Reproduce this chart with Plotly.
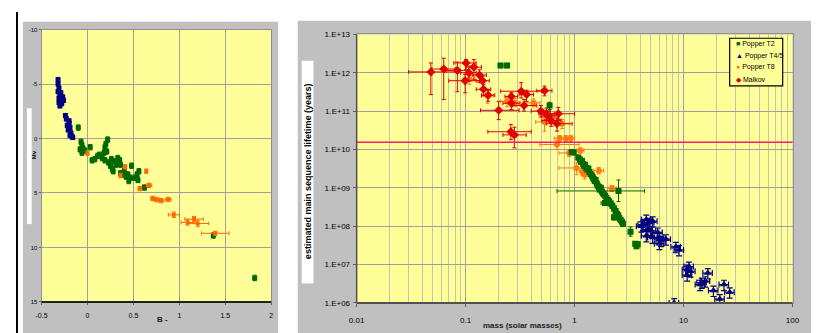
import plotly.graph_objects as go

W, H = 819, 333

# ---------------- Left panel data (B-V vs magnitude) ----------------
L_blue_x = [-0.32, -0.32, -0.31, -0.32, -0.30, -0.31, -0.29, -0.28, -0.30, -0.27, -0.29, -0.31, -0.26,
            -0.24, -0.23, -0.20, -0.22, -0.19, -0.21, -0.18, -0.17, -0.19, -0.16, -0.20]
L_blue_y = [-5.4, -5.0, -4.6, -4.3, -4.0, -3.7, -3.5, -3.2, -3.0, -3.8, -4.2, -3.3, -3.5,
            -2.1, -1.8, -1.6, -1.2, -1.0, -0.8, -0.5, -0.2, -0.3, -0.1, -1.4]

L_green_x = [-0.10, -0.07, -0.06, -0.05, -0.08, -0.03, 0.03, -0.06,
             0.05, 0.08, 0.11, 0.13, 0.16, 0.19, 0.18, 0.22, 0.20, 0.19, 0.21,
             0.23, 0.25, 0.27, 0.26, 0.29, 0.31, 0.33, 0.35, 0.36, 0.28,
             0.36, 0.40, 0.42, 0.44, 0.45, 0.47, 0.48, 0.52, 0.55, 0.56, 0.54, 0.38,
             0.62, 1.37, 1.82]
L_green_y = [-1.0, 0.3, 0.6, 0.9, 1.0, 1.1, 0.8, 1.3,
             2.0, 1.9, 1.6, 1.5, 1.8, 2.0, 1.3, 0.1, 0.5, 0.8, 1.2,
             2.2, 2.5, 2.8, 1.9, 2.1, 2.4, 1.8, 2.0, 2.4, 3.0,
             3.2, 3.0, 3.5, 3.3, 3.9, 3.6, 2.5, 3.6, 3.8, 3.0, 3.3, 3.3,
             4.5, 8.9, 12.8]

L_orange_x = [0.00, 0.41, 0.36, 0.64, 0.67, 0.57, 0.71, 0.75, 0.80, 0.88, 0.94, 1.09, 1.16, 1.20, 1.39]
L_orange_y = [1.35, 2.6, 3.4, 3.0, 4.3, 4.6, 5.5, 5.6, 5.7, 5.6, 7.0, 7.7, 7.4, 7.8, 8.7]
L_orange_xerr = [0.01, 0.01, 0.01, 0.01, 0.03, 0.02, 0.02, 0.03, 0.03, 0.03, 0.06, 0.07, 0.10, 0.12, 0.15]
L_orange_yerr = [0.2, 0.2, 0.2, 0.2, 0.2, 0.2, 0.2, 0.2, 0.2, 0.2, 0.25, 0.25, 0.25, 0.3, 0.2]

L_xticks = [-0.5, 0, 0.5, 1, 1.5, 2]
L_xticktext = ["-0.5", "0", "0.5", "1", "1.5", "2"]
L_yticks = [-10, -5, 0, 5, 10, 15]
L_yticktext = ["-10", "-5", "0", "5", "10", "15"]

# ---------------- Right panel data (mass vs lifetime) ----------------
MK_x = [0.048, 0.063, 0.084, 0.101, 0.119, 0.107, 0.134, 0.099, 0.143, 0.146, 0.161, 0.201, 0.263,
        0.263, 0.324, 0.363, 0.344, 0.53, 0.49, 0.55, 0.61, 0.71, 0.69, 0.26, 0.28, 0.57]
MK_xlo = [0.030, 0.049, 0.066, 0.078, 0.100, 0.090, 0.115, 0.070, 0.125, 0.125, 0.140, 0.137, 0.23,
          0.22, 0.21, 0.31, 0.27, 0.45, 0.40, 0.47, 0.50, 0.56, 0.55, 0.16, 0.22, 0.50]
MK_xhi = [0.085, 0.080, 0.108, 0.125, 0.140, 0.125, 0.155, 0.135, 0.165, 0.170, 0.185, 0.31, 0.30,
          0.31, 0.50, 0.42, 0.45, 0.62, 0.60, 0.65, 0.75, 1.00, 0.95, 0.40, 0.36, 0.66]
MK_y = [1.05e12, 1.25e12, 1.15e12, 1.8e12, 1.4e12, 1.0e12, 8.7e11, 6.2e11, 6.2e11, 3.7e11, 2.6e11, 1.05e11, 2.4e11,
        1.6e11, 3.3e11, 2.7e11, 1.4e11, 3.4e11, 1.0e11, 8.5e10, 5.7e10, 8.5e10, 4.7e10, 2.9e10, 2.4e10, 7.5e10]
MK_ylo = [2.7e11, 2.0e11, 3.2e11, 1.2e12, 6.5e11, 6.0e11, 5.5e11, 3.0e11, 4.0e11, 2.5e11, 1.8e11, 6.0e10, 1.6e11,
          1.1e11, 2.2e11, 1.8e11, 1.0e11, 2.5e11, 7.0e10, 6.0e10, 4.0e10, 6.0e10, 3.0e10, 1.8e10, 1.1e10, 5.5e10]
MK_yhi = [1.8e12, 2.4e12, 1.9e12, 2.2e12, 2.2e12, 1.5e12, 1.2e12, 9.0e11, 8.0e11, 5.0e11, 3.5e11, 1.8e11, 3.0e11,
          2.2e11, 5.5e11, 3.5e11, 2.0e11, 4.5e11, 1.4e11, 1.2e11, 8.0e10, 1.25e11, 6.5e10, 4.5e10, 3.8e10, 1.0e11]

T8_x = [0.108, 0.159, 0.24, 0.285, 0.42, 0.53, 0.61, 0.77, 0.73, 0.83, 0.92, 0.69, 0.89, 1.13, 1.04, 1.24, 1.18, 1.67, 2.2]
T8_xlo = [0.095, 0.14, 0.21, 0.25, 0.36, 0.44, 0.52, 0.65, 0.65, 0.75, 0.84, 0.48, 0.72, 1.05, 0.72, 1.15, 1.10, 1.50, 2.0]
T8_xhi = [0.122, 0.18, 0.27, 0.32, 0.48, 0.62, 0.72, 0.90, 0.82, 0.92, 1.00, 1.10, 1.05, 1.22, 1.40, 1.35, 1.27, 1.85, 2.4]
T8_y = [6.8e11, 2.5e11, 1.8e11, 1.65e11, 1.65e11, 5.2e10, 6.9e10, 4.7e10, 1.95e10, 1.9e10, 1.95e10, 1.35e10,
        8.1e9, 9.4e9, 3.3e9, 2.2e9, 2.7e9, 2.8e9, 9.6e8]
T8_ylo = [5.0e11, 1.6e11, 1.3e11, 1.3e11, 1.3e11, 3.0e10, 5.5e10, 3.5e10, 1.6e10, 1.6e10, 1.6e10, 1.0e10,
          6.5e9, 8.0e9, 2.2e9, 1.7e9, 2.2e9, 2.3e9, 8.0e8]
T8_yhi = [8.5e11, 3.7e11, 2.3e11, 2.1e11, 2.1e11, 7.0e10, 8.5e10, 6.0e10, 2.3e10, 2.3e10, 2.3e10, 1.7e10,
          1.0e10, 1.1e10, 4.5e9, 2.8e9, 3.2e9, 3.4e9, 1.15e9]

T2d_x = [0.209, 0.24, 0.59, 0.94, 0.98, 2.53, 1.9, 3.26, 3.6, 3.8, 3.7]
T2d_xlo = [0.20, 0.23, 0.58, 0.92, 0.96, 0.69, 1.75, 3.15, 3.5, 3.7, 3.6]
T2d_xhi = [0.22, 0.25, 0.60, 0.96, 1.00, 4.38, 2.10, 3.40, 3.7, 3.9, 3.8]
T2d_y = [1.55e12, 1.55e12, 1.4e11, 8.6e9, 8.3e9, 8.3e8, 4.0e8, 7.2e7, 3.5e7, 3.4e7, 3.0e7]
T2d_ylo = [1.35e12, 1.35e12, 1.1e11, 7.5e9, 7.3e9, 4.4e8, 3.5e8, 5.5e7, 3.0e7, 2.9e7, 2.6e7]
T2d_yhi = [1.75e12, 1.75e12, 1.7e11, 9.8e9, 9.5e9, 1.6e9, 4.6e8, 9.5e7, 4.0e7, 3.9e7, 3.5e7]

T2b_x = [1.08, 1.12, 1.14, 1.17, 1.20, 1.22, 1.25, 1.28, 1.31, 1.34, 1.37, 1.40, 1.44, 1.47, 1.50, 1.53,
         1.56, 1.60, 1.63, 1.67, 1.70, 1.74, 1.78, 1.82, 1.86, 1.91, 1.96, 2.02, 2.08, 2.15, 2.22, 2.30,
         2.38, 2.45, 2.52, 2.58, 2.65, 2.72, 2.78, 2.30]
T2b_y = [6.2e9, 5.5e9, 4.8e9, 5.0e9, 4.2e9, 3.8e9, 4.0e9, 3.3e9, 3.0e9, 3.2e9, 2.6e9, 2.3e9, 2.1e9, 1.9e9,
         1.7e9, 1.5e9, 1.6e9, 1.3e9, 1.15e9, 1.05e9, 9.0e8, 1.0e9, 8.0e8, 7.2e8, 6.8e8, 6.2e8, 5.4e8, 4.8e8,
         4.4e8, 3.9e8, 3.4e8, 2.9e8, 2.5e8, 2.1e8, 1.9e8, 1.6e8, 1.45e8, 1.3e8, 1.15e8, 1.7e8]

T45_x = [4.55, 4.24, 4.86, 5.2, 4.7, 5.05, 4.55, 5.2, 4.1, 5.8, 6.0, 6.0, 6.2, 6.9, 8.5, 9.1,
         11.2, 10.8, 11.6, 10.8, 16.7, 14.7, 15.8, 14.2, 18.8, 23.5, 26.5, 21.5, 8.2]
T45_y = [1.5e8, 1.1e8, 1.24e8, 1.35e8, 8.3e7, 7.6e7, 5.6e7, 5.1e7, 1.0e8, 6.9e7, 5.1e7, 3.5e7, 4.2e7, 4.6e7,
         2.9e7, 2.4e7, 8.9e6, 7.4e6, 6.7e6, 5.3e6, 6.0e6, 3.4e6, 3.7e6, 3.0e6, 2.1e6, 3.0e6, 1.9e6, 1.26e6, 1.0e6]

AGE_LINE = 1.55e10

R_xticks = [0.01, 0.1, 1, 10, 100]
R_xticktext = ["0.01", "0.1", "1", "10", "100"]
R_yticks = [1e6, 1e7, 1e8, 1e9, 1e10, 1e11, 1e12, 1e13]
R_yticktext = ["1.E+06", "1.E+07", "1.E+08", "1.E+09", "1.E+10", "1.E+11", "1.E+12", "1.E+13"]

LEGEND_NAMES = ["Popper T2", "Popper T4/5", "Popper T8", "Malkov"]

# ---------------- colours ----------------
C_GREEN = "#006a00"
C_BLUE = "#000080"
C_ORANGE = "#ff7a10"
C_ORANGE_L = "#ff6a00"
C_RED = "#e00000"
C_LINE = "#ff1a6a"
C_YELLOW = "#ffff99"
C_GRAY = "#c0c0c0"
C_GRID = "#a0a0a0"

FONT = "Liberation Sans, Arial, sans-serif"

# plot-area pixel boxes (left, top, right, bottom)
L_BOX = (26, 18, 260, 298)
R_BOX = (347, 23, 791, 299)


def px_x(p):
    return p / W


def px_y(p):
    return 1 - p / H


def plus(v, hi):
    return [h - a for a, h in zip(v, hi)]


def minus(v, lo):
    return [a - l for a, l in zip(v, lo)]


fig = go.Figure()

# ---- left panel traces ----
fig.add_trace(go.Scatter(x=L_blue_x, y=L_blue_y, mode="markers", xaxis="x", yaxis="y",
                         marker=dict(symbol="square", size=5, color=C_BLUE),
                         error_x=dict(type="constant", value=0.012, color=C_BLUE, thickness=1, width=2),
                         error_y=dict(type="constant", value=0.2, color=C_BLUE, thickness=1, width=2)))
fig.add_trace(go.Scatter(x=L_green_x, y=L_green_y, mode="markers", xaxis="x", yaxis="y",
                         marker=dict(symbol="square", size=5, color=C_GREEN),
                         error_x=dict(type="constant", value=0.015, color=C_GREEN, thickness=1, width=2),
                         error_y=dict(type="constant", value=0.25, color=C_GREEN, thickness=1, width=2)))
fig.add_trace(go.Scatter(x=L_orange_x, y=L_orange_y, mode="markers", xaxis="x", yaxis="y",
                         marker=dict(symbol="square", size=4, color=C_ORANGE_L),
                         error_x=dict(type="data", array=L_orange_xerr, color=C_ORANGE_L, thickness=1, width=2),
                         error_y=dict(type="data", array=L_orange_yerr, color=C_ORANGE_L, thickness=1, width=2)))

# ---- right panel traces ----
fig.add_trace(go.Scatter(x=T8_x, y=T8_y, mode="markers", xaxis="x2", yaxis="y2",
                         marker=dict(symbol="circle", size=6, color=C_ORANGE),
                         error_x=dict(type="data", array=plus(T8_x, T8_xhi), arrayminus=minus(T8_x, T8_xlo),
                                      color=C_ORANGE, thickness=1, width=2),
                         error_y=dict(type="data", array=plus(T8_y, T8_yhi), arrayminus=minus(T8_y, T8_ylo),
                                      color=C_ORANGE, thickness=1, width=2)))
fig.add_trace(go.Scatter(x=MK_x, y=MK_y, mode="markers", xaxis="x2", yaxis="y2",
                         marker=dict(symbol="diamond", size=7, color=C_RED),
                         error_x=dict(type="data", array=plus(MK_x, MK_xhi), arrayminus=minus(MK_x, MK_xlo),
                                      color=C_RED, thickness=1, width=2),
                         error_y=dict(type="data", array=plus(MK_y, MK_yhi), arrayminus=minus(MK_y, MK_ylo),
                                      color=C_RED, thickness=1, width=2)))
fig.add_trace(go.Scatter(x=T2b_x, y=T2b_y, mode="markers", xaxis="x2", yaxis="y2",
                         marker=dict(symbol="square", size=6, color=C_GREEN),
                         error_x=dict(type="percent", value=3, color=C_GREEN, thickness=1, width=2),
                         error_y=dict(type="percent", value=15, color=C_GREEN, thickness=1, width=2)))
fig.add_trace(go.Scatter(x=T2d_x, y=T2d_y, mode="markers", xaxis="x2", yaxis="y2",
                         marker=dict(symbol="square", size=6, color=C_GREEN),
                         error_x=dict(type="data", array=plus(T2d_x, T2d_xhi), arrayminus=minus(T2d_x, T2d_xlo),
                                      color=C_GREEN, thickness=1, width=2),
                         error_y=dict(type="data", array=plus(T2d_y, T2d_yhi), arrayminus=minus(T2d_y, T2d_ylo),
                                      color=C_GREEN, thickness=1, width=2)))
fig.add_trace(go.Scatter(x=T45_x, y=T45_y, mode="markers", xaxis="x2", yaxis="y2",
                         marker=dict(symbol="triangle-up", size=7, color=C_BLUE),
                         error_x=dict(type="percent", value=10, color=C_BLUE, thickness=1.2, width=3),
                         error_y=dict(type="percent", value=30, color=C_BLUE, thickness=1.2, width=3)))

# ---- layout ----
minor_vals = [m * 10 ** e for e in range(-2, 2) for m in range(2, 10)]

fig.update_layout(
    width=W, height=H, margin=dict(l=0, r=0, t=0, b=0),
    paper_bgcolor="white", plot_bgcolor="rgba(0,0,0,0)", showlegend=False,
    font=dict(family=FONT, size=8, color="black"),
    xaxis=dict(domain=[px_x(L_BOX[0]), px_x(L_BOX[2])], range=[-0.5, 2], anchor="y",
               tickmode="array", tickvals=L_xticks, ticktext=L_xticktext,
               showgrid=True, gridcolor=C_GRID, gridwidth=1, zeroline=False,
               showline=True, mirror=True, linecolor="#909090", linewidth=1,
               ticks="outside", ticklen=2, tickcolor="#606060",
               tickfont=dict(family=FONT, size=7, color="#000000"), ticklabelstandoff=5),
    yaxis=dict(domain=[px_y(L_BOX[3]), px_y(L_BOX[1])], range=[15, -10], anchor="x",
               tickmode="array", tickvals=L_yticks, ticktext=L_yticktext,
               showgrid=True, gridcolor=C_GRID, gridwidth=1, zeroline=False,
               showline=True, mirror=True, linecolor="#909090", linewidth=1,
               ticks="outside", ticklen=2, tickcolor="#606060",
               tickfont=dict(family=FONT, size=6, color="#000000"), ticklabelstandoff=0),
    xaxis2=dict(domain=[px_x(R_BOX[0]), px_x(R_BOX[2])], type="log", range=[-2, 2], anchor="y2",
                tickmode="array", tickvals=R_xticks, ticktext=R_xticktext,
                showgrid=True, gridcolor=C_GRID, gridwidth=1, zeroline=False,
                showline=True, mirror=True, linecolor="#909090", linewidth=1,
                ticks="outside", ticklen=3, tickcolor="#606060",
                minor=dict(tickmode="array", tickvals=minor_vals, showgrid=True, gridcolor="#c4c4b4",
                           gridwidth=1, ticks=""),
                tickfont=dict(family=FONT, size=8, color="#000000"), ticklabelstandoff=6),
    yaxis2=dict(domain=[px_y(R_BOX[3]), px_y(R_BOX[1])], type="log", range=[6, 13], anchor="x2",
                tickmode="array", tickvals=R_yticks, ticktext=R_yticktext,
                showgrid=True, gridcolor=C_GRID, gridwidth=1, zeroline=False,
                showline=True, mirror=True, linecolor="#909090", linewidth=1,
                ticks="outside", ticklen=3, tickcolor="#606060",
                tickfont=dict(family=FONT, size=8, color="#000000"), ticklabelstandoff=1),
)


def paper_rect(x0, y0, x1, y1, fill, layer="below", line=None):
    return dict(type="rect", xref="paper", yref="paper",
                x0=px_x(x0), x1=px_x(x1), y0=px_y(y1), y1=px_y(y0),
                fillcolor=fill, line=line or dict(width=0), layer=layer)


shapes = []
# gray chart-area panels
shapes.append(paper_rect(7, 10, 267, H, C_GRAY))
shapes.append(paper_rect(287, 9, W, H, C_GRAY))
# yellow plot areas
shapes.append(paper_rect(*L_BOX, C_YELLOW))
shapes.append(paper_rect(*R_BOX, C_YELLOW))
# black border at the far left
shapes.append(paper_rect(0, 0, 2, H, "black"))
# white strips behind axis titles
shapes.append(paper_rect(11, 99, 16, 218, "white"))
shapes.append(paper_rect(291, 50, 303, 279, "white"))
# age-of-universe line across right panel
shapes.append(dict(type="line", xref="x2 domain", yref="y2", x0=0, x1=1, y0=AGE_LINE, y1=AGE_LINE,
                   line=dict(color=C_LINE, width=1.5), layer="above"))
# heavy bottom axis lines
shapes.append(dict(type="line", xref="x domain", yref="y domain", x0=0, x1=1, y0=0, y1=0,
                   line=dict(color="#202020", width=2), layer="above"))
shapes.append(dict(type="line", xref="x2 domain", yref="y2 domain", x0=0, x1=1, y0=0, y1=0,
                   line=dict(color="#505050", width=2), layer="above"))
shapes.append(dict(type="line", xref="x2 domain", yref="y2 domain", x0=0, x1=0, y0=0, y1=1,
                   line=dict(color="#505050", width=1.5), layer="above"))
# legend box
shapes.append(paper_rect(727, 27, 781, 76, C_YELLOW, layer="above", line=dict(color="black", width=1.2)))
fig.update_layout(shapes=shapes)

annotations = []
annotations.append(dict(xref="paper", yref="paper", x=px_x(142), y=px_y(323), text="<b>B -</b>",
                        showarrow=False, font=dict(family=FONT, size=8, color="#202020")))
annotations.append(dict(xref="paper", yref="paper", x=px_x(558), y=px_y(329), text="<b>mass (solar masses)</b>",
                        showarrow=False, font=dict(family=FONT, size=8, color="#202020")))
annotations.append(dict(xref="paper", yref="paper", x=px_x(13.5), y=px_y(147), text="<b>Mv</b>",
                        showarrow=False, textangle=-90, font=dict(family=FONT, size=6, color="black")))
annotations.append(dict(xref="paper", yref="paper", x=px_x(297), y=px_y(164),
                        text="<b>estimated main sequence lifetime (years)</b>",
                        showarrow=False, textangle=-90, font=dict(family=FONT, size=9, color="black")))

legend_colors = [C_GREEN, C_BLUE, C_ORANGE, C_RED]
legend_glyphs = ["■", "▲", "●", "◆"]
for i, (name, col, gl) in enumerate(zip(LEGEND_NAMES, legend_colors, legend_glyphs)):
    annotations.append(dict(xref="paper", yref="paper", x=px_x(731), y=px_y(33 + 12 * i),
                            xanchor="left", yanchor="middle", showarrow=False,
                            text=f"<span style='color:{col}'>{gl}</span> {name}",
                            font=dict(family=FONT, size=7, color="black")))
fig.update_layout(annotations=annotations)

fig.write_html("out.html")
